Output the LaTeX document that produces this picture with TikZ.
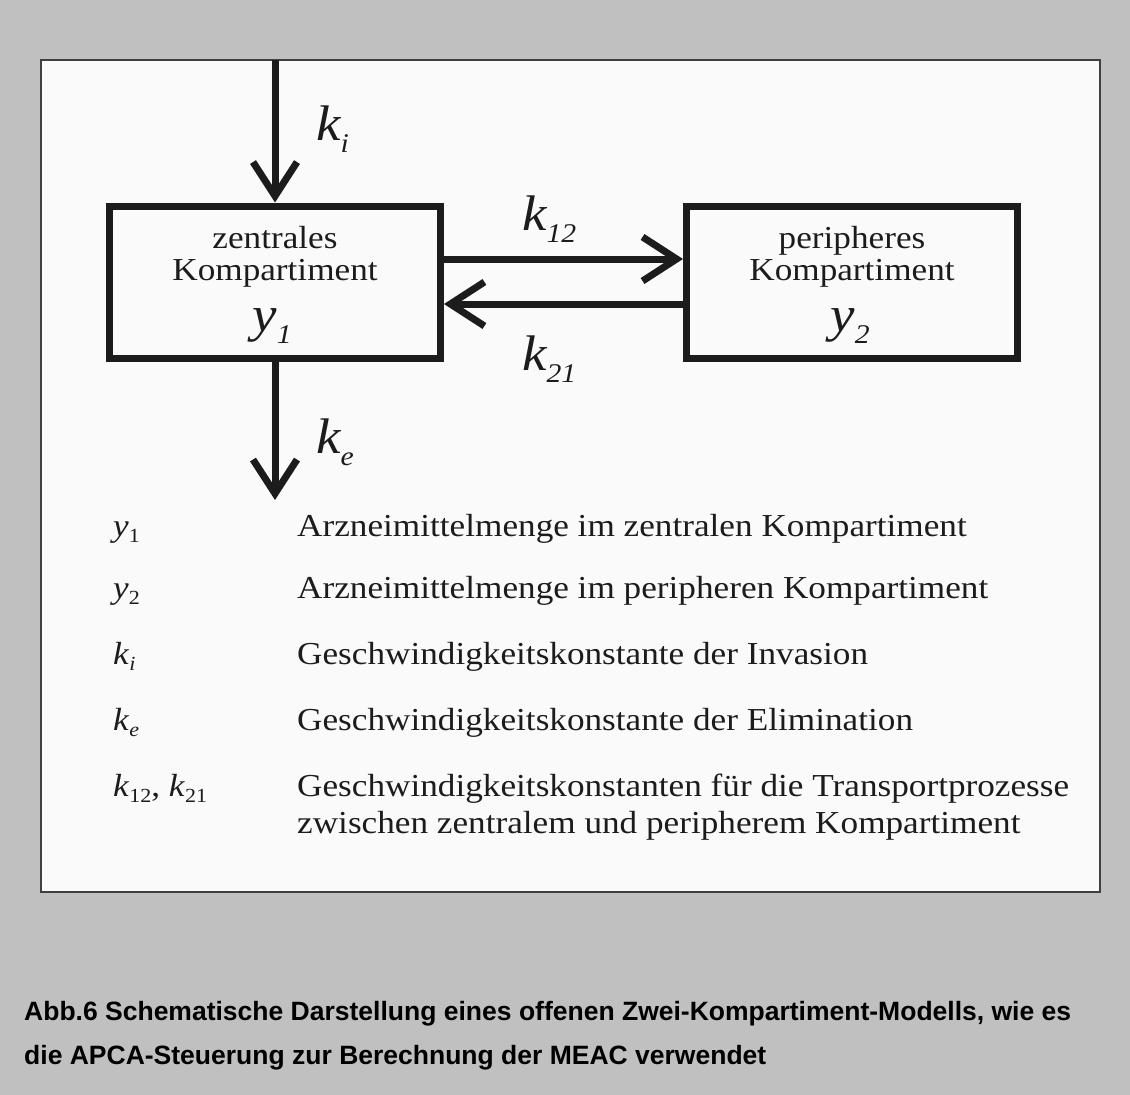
\documentclass[tikz,border=0pt]{standalone}
\usepackage{fontspec}
\setmainfont{Liberation Serif}
\newfontfamily\scanfont[FakeStretch=1.1]{Liberation Serif}
\newfontfamily\captionfont{Liberation Sans}
\usepackage{tikz}
\usetikzlibrary{positioning,arrows.meta}
\definecolor{screengray}{RGB}{192,192,192}
\definecolor{paperwhite}{RGB}{250,250,250}
\definecolor{ink}{RGB}{28,28,28}
\tikzstyle{compartment}=[rectangle, draw=ink, line width=7pt, minimum width=331pt, minimum height=152pt, inner sep=0pt]
\tikzstyle{boxtext}=[anchor=base, inner sep=0pt, text=ink, font=\fontsize{32}{32}\selectfont\scanfont]
\tikzstyle{rate}=[anchor=base west, inner sep=0pt, text=ink, font=\fontsize{50}{50}\selectfont\scanfont\itshape]
\tikzstyle{legendtext}=[anchor=base west, inner sep=0pt, text=ink, font=\fontsize{32}{32}\selectfont\scanfont]
\tikzstyle{captiontext}=[anchor=base west, inner sep=0pt, text=black, font=\fontsize{26.5}{26.5}\selectfont\captionfont\bfseries]
\tikzstyle{flow}=[->, draw=ink, line width=7pt]
\tikzset{>={Straight Barb[length=34pt,width=44pt]}}
\newcommand\ratesub[1]{\raisebox{-12pt}{\fontsize{27}{27}\selectfont #1}}
\newcommand\legsub[1]{\raisebox{-6pt}{\fontsize{20}{20}\selectfont #1}}

\begin{document}
\begin{tikzpicture}[x=1pt, y=-1pt]

        \fill[screengray] (0,0) rectangle (1130,1095);
        \useasboundingbox (0,0) rectangle (1130,1095);
        \draw[fill=paperwhite, draw=black!75, line width=1.5pt] (41,60) rectangle (1100,892);

        \node(zentral)[compartment] at (275,282) {};
        \node(peripher)[compartment] at (852,282) {};

        \node(zentralLine1)[boxtext] at (275,248) {zentrales};
        \node(zentralLine2)[boxtext] at (275,280) {Kompartiment};
        \node(zentralAmount)[rate, anchor=base] at (272,331) {y\ratesub{1}};
        \node(peripherLine1)[boxtext] at (852,248) {peripheres};
        \node(peripherLine2)[boxtext] at (852,280) {Kompartiment};
        \node(peripherAmount)[rate, anchor=base] at (850,331) {y\ratesub{2}};

        \coordinate (inflow) at (275,60);
        \coordinate (outflow) at (275,500);
        \draw[flow] (inflow) -- (zentral.north);
        \draw[flow] (zentral.south) -- (outflow);
        \draw[flow] ([yshift=23pt]zentral.east) -- ([yshift=23pt]peripher.west);
        \draw[flow] ([yshift=-22pt]peripher.west) -- ([yshift=-22pt]zentral.east);

        \node(kin)[rate] at (316,140) {k\ratesub{i}};
        \node(k12)[rate] at (522,230) {k\ratesub{12}};
        \node(k21)[rate] at (522,370) {k\ratesub{21}};
        \node(kout)[rate] at (316,453) {k\ratesub{e}};

        \node(symY1)[legendtext] at (113,536) {\textit{y}\legsub{1}};
        \node(symY2)[legendtext] at (113,598) {\textit{y}\legsub{2}};
        \node(symKin)[legendtext] at (113,664) {\textit{k}\legsub{\textit{i}}};
        \node(symKout)[legendtext] at (113,730) {\textit{k}\legsub{\textit{e}}};
        \node(symK)[legendtext] at (113,796) {\textit{k}\legsub{12}, \textit{k}\legsub{21}};

        \node(descY1)[legendtext] at (297,536) {Arzneimittelmenge im zentralen Kompartiment};
        \node(descY2)[legendtext] at (297,598) {Arzneimittelmenge im peripheren Kompartiment};
        \node(descKin)[legendtext] at (297,664) {Geschwindigkeitskonstante der Invasion};
        \node(descKout)[legendtext] at (297,730) {Geschwindigkeitskonstante der Elimination};
        \node(descK)[legendtext] at (297,796) {Geschwindigkeitskonstanten für die Transportprozesse};
        \node(descK2)[legendtext] at (297,833) {zwischen zentralem und peripherem Kompartiment};

        \node(captionLine1)[captiontext] at (24,1020) {Abb.6 Schematische Darstellung eines offenen Zwei-Kompartiment-Modells, wie es};
        \node(captionLine2)[captiontext] at (24,1064) {die APCA-Steuerung zur Berechnung der MEAC verwendet};

    \end{tikzpicture}
\end{document}
